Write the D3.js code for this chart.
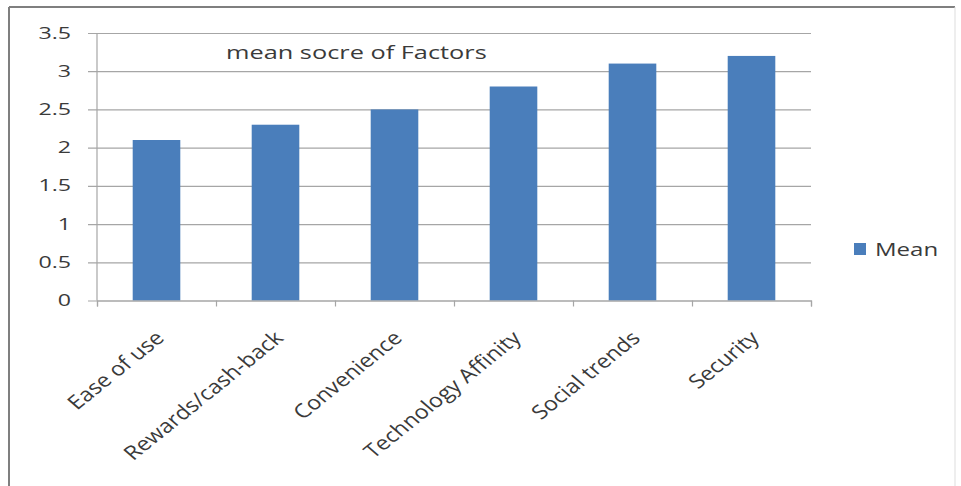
<!DOCTYPE html>
<html>
<head>
<meta charset="utf-8">
<script src="https://cdn.jsdelivr.net/npm/d3@7"></script>
<style>
  html, body { margin: 0; padding: 0; background: #fff; }
  svg { display: block; }
  text { font-family: "Open Sans", "Noto Sans", sans-serif; fill: #3a3a3a; }
</style>
</head>
<body>
<svg id="chart" width="961" height="486"></svg>
<script>
// Factors and their mean scores
const categories = ["Ease of use", "Rewards/cash-back", "Convenience", "Technology Affinity", "Social trends", "Security"];
const meanValues = [2.1, 2.3, 2.5, 2.8, 3.1, 3.2];
const yTicks = [0, 0.5, 1, 1.5, 2, 2.5, 3, 3.5];
const seriesName = "Mean";
const chartTitle = "mean socre of Factors";

const barColor = "#4a7ebb";
const gridColor = "#a6a6a6";

const svg = d3.select("#chart");

// outer frame
svg.append("line").attr("x1", 9).attr("y1", 7).attr("x2", 955).attr("y2", 7)
  .attr("stroke", "#7f7f7f").attr("stroke-width", 2);
svg.append("line").attr("x1", 9).attr("y1", 7).attr("x2", 9).attr("y2", 486)
  .attr("stroke", "#7f7f7f").attr("stroke-width", 2);
svg.append("line").attr("x1", 955).attr("y1", 7).attr("x2", 955).attr("y2", 486)
  .attr("stroke", "#dddddd").attr("stroke-width", 1);

const plot = { left: 97, right: 811, top: 33, bottom: 300.5 };

const y = d3.scaleLinear().domain([0, 3.5]).range([plot.bottom, plot.top]);
const x = d3.scaleBand().domain(categories).range([plot.left, plot.right]);
const xEdge = d3.scaleLinear().domain([0, categories.length]).range([plot.left, plot.right]);

// horizontal gridlines with value labels
const yAxis = d3.axisLeft(y)
  .tickValues(yTicks)
  .tickSize(-(plot.right - 88))
  .tickPadding(0)
  .tickFormat(d3.format("~g"));
const gy = svg.append("g").attr("transform", "translate(88,0)").call(yAxis);
gy.select(".domain").remove();
gy.selectAll(".tick line").attr("stroke", gridColor).attr("stroke-width", 1.2);
gy.selectAll(".tick text")
  .attr("x", null)
  .attr("transform", "translate(-17,0) scale(1.45,1)")
  .attr("text-anchor", "end")
  .style("font-size", "16px")
  .style("font-family", "'Open Sans', sans-serif")
  .attr("fill", "#3a3a3a");

// vertical value axis line
svg.append("line")
  .attr("x1", plot.left).attr("x2", plot.left)
  .attr("y1", y(3.5)).attr("y2", y(0))
  .attr("stroke", gridColor).attr("stroke-width", 1.2);

// bars
svg.append("g").selectAll("rect")
  .data(categories)
  .join("rect")
  .attr("x", (d) => x(d) + x.bandwidth() * 0.3)
  .attr("width", x.bandwidth() * 0.4)
  .attr("y", (d, i) => y(meanValues[i]))
  .attr("height", (d, i) => y(0) - y(meanValues[i]))
  .attr("fill", barColor);

// category axis with boundary ticks
const xAxis = d3.axisBottom(xEdge)
  .tickValues(d3.range(categories.length + 1))
  .tickSize(6)
  .tickFormat("");
const gx = svg.append("g").attr("transform", `translate(0,${plot.bottom})`).call(xAxis);
gx.select(".domain").attr("stroke", gridColor).attr("stroke-width", 1.2);
gx.selectAll(".tick line").attr("stroke", gridColor).attr("stroke-width", 1.2);

// rotated category labels
svg.append("g").selectAll("text")
  .data(categories)
  .join("text")
  .attr("text-anchor", "end")
  .attr("transform", (d) => `translate(${x(d) + x.bandwidth() / 2 + 9},${plot.bottom + 39}) scale(1.2,1) rotate(-44)`)
  .style("font-size", "19.5px")
  .text((d) => d);

// title inside the plot area
svg.append("text")
  .attr("transform", "translate(226,59) scale(1.37,1)")
  .style("font-size", "18.5px")
  .text(chartTitle);

// legend
svg.append("rect")
  .attr("x", 854).attr("y", 243).attr("width", 12).attr("height", 12)
  .attr("fill", barColor);
svg.append("text")
  .attr("transform", "translate(875,256) scale(1.3,1)")
  .style("font-size", "18.5px")
  .text(seriesName);
</script>
</body>
</html>
